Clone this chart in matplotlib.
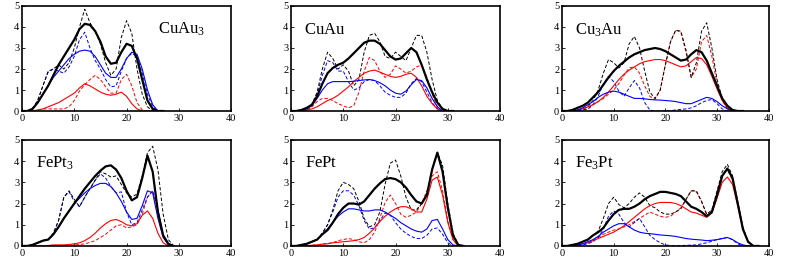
import matplotlib
matplotlib.use('Agg')
import matplotlib.pyplot as plt
import numpy as np

# Energy grid (one value per unit) and DOS-like curves.
# tot = black, a = blue, b = red; *_d = dashed counterpart

# CuAu3
cuau3_x = list(range(0, 28))
cuau3_tot = [0, 0, 0.1, 0.4, 0.8, 1.2, 1.7, 2.2, 2.6, 3.0, 3.4, 3.9, 4.15, 4.1,
             3.8, 3.3, 2.6, 2.25, 2.3, 2.8, 3.2, 3.1, 2.5, 1.5, 0.5, 0.1, 0, 0]
cuau3_tot_d = [0, 0, 0.1, 0.5, 1.2, 1.9, 2.0, 2.2, 2.0, 2.3, 3.0, 4.0, 4.85, 4.2,
               3.8, 3.2, 2.3, 1.7, 2.0, 3.5, 4.3, 3.7, 2.0, 0.8, 0.2, 0, 0, 0]
cuau3_a = [0, 0, 0.1, 0.4, 0.8, 1.2, 1.6, 1.9, 2.2, 2.5, 2.7, 2.85, 2.9, 2.85,
           2.6, 2.2, 1.8, 1.6, 1.6, 2.0, 2.5, 2.8, 2.7, 2.0, 1.0, 0.3, 0, 0]
cuau3_a_d = [0, 0, 0.1, 0.5, 1.2, 1.85, 2.0, 1.9, 1.8, 2.1, 2.6, 3.4, 3.75, 3.0,
             2.4, 2.0, 1.5, 1.15, 1.2, 1.9, 2.5, 2.75, 2.6, 1.8, 0.8, 0.2, 0, 0]
cuau3_b = [0, 0, 0, 0.05, 0.1, 0.2, 0.3, 0.4, 0.55, 0.7, 0.85, 1.1, 1.3, 1.2,
           1.05, 0.9, 0.8, 0.75, 0.8, 0.9, 0.7, 0.35, 0.1, 0, 0, 0, 0, 0]
cuau3_b_d = [0, 0, 0, 0.05, 0.1, 0.1, 0.1, 0.1, 0.1, 0.2, 0.5, 0.95, 1.25, 1.5,
             1.7, 1.5, 1.15, 0.85, 0.85, 1.5, 1.75, 1.2, 0.4, 0.05, 0, 0, 0, 0]

# CuAu
cuau_x = list(range(0, 32))
cuau_tot = [0, 0, 0.05, 0.15, 0.3, 0.7, 1.3, 1.8, 2.05, 2.2, 2.3, 2.5, 2.75, 3.0,
            3.25, 3.35, 3.35, 3.2, 2.9, 2.6, 2.45, 2.5, 2.75, 3.0, 2.8, 2.2,
            1.5, 0.9, 0.4, 0.1, 0, 0]
cuau_tot_d = [0, 0, 0.05, 0.1, 0.3, 0.9, 2.0, 2.8, 2.5, 2.0, 2.2, 1.9, 1.2, 1.5,
              2.8, 3.6, 3.7, 3.3, 2.6, 2.5, 2.8, 2.6, 2.4, 3.0, 3.6, 3.6, 2.8,
              1.5, 0.5, 0.1, 0, 0]
cuau_a = [0, 0, 0, 0.1, 0.25, 0.6, 1.0, 1.3, 1.4, 1.4, 1.4, 1.4, 1.42, 1.45,
          1.48, 1.5, 1.45, 1.35, 1.2, 1.0, 0.85, 0.8, 0.95, 1.25, 1.5, 1.45,
          1.1, 0.6, 0.2, 0, 0, 0]
cuau_a_d = [0, 0, 0, 0.1, 0.3, 0.8, 1.7, 2.4, 2.3, 1.9, 1.9, 1.4, 1.0, 1.1, 1.4,
            1.5, 1.45, 1.2, 0.9, 0.75, 0.65, 0.65, 0.85, 1.3, 1.55, 1.4, 0.9,
            0.4, 0.1, 0, 0, 0]
cuau_b = [0, 0, 0, 0.05, 0.1, 0.2, 0.35, 0.5, 0.6, 0.75, 0.95, 1.15, 1.4, 1.6,
          1.8, 1.9, 1.95, 1.85, 1.75, 1.65, 1.6, 1.65, 1.75, 1.8, 1.6, 1.2,
          0.7, 0.35, 0.1, 0, 0, 0]
cuau_b_d = [0, 0, 0, 0.05, 0.2, 0.45, 0.6, 0.6, 0.5, 0.35, 0.25, 0.15, 0.25, 0.9,
            1.9, 2.55, 2.4, 1.9, 1.6, 1.75, 2.15, 2.0, 1.8, 1.9, 2.1, 2.2, 1.6,
            0.8, 0.2, 0, 0, 0]

# Cu3Au
cu3au_x = list(range(0, 36))
cu3au_tot = [0, 0, 0.05, 0.15, 0.25, 0.4, 0.65, 0.9, 1.25, 1.6, 1.9, 2.15, 2.35,
             2.55, 2.7, 2.8, 2.9, 2.95, 3.0, 2.95, 2.85, 2.7, 2.55, 2.4, 2.45,
             2.7, 2.9, 2.8, 2.4, 1.8, 1.2, 0.6, 0.25, 0.05, 0, 0]
cu3au_tot_d = [0, 0, 0, 0.05, 0.1, 0.2, 0.5, 1.0, 1.8, 2.45, 2.3, 2.05, 2.3, 3.2,
               3.55, 3.0, 1.9, 0.9, 0.6, 1.0, 2.2, 3.3, 3.85, 3.8, 2.9, 1.6,
               2.3, 3.8, 4.2, 3.0, 1.5, 0.6, 0.15, 0, 0, 0]
cu3au_a = [0, 0, 0, 0.05, 0.15, 0.3, 0.45, 0.65, 0.8, 0.9, 0.95, 0.9, 0.8, 0.7,
           0.6, 0.6, 0.58, 0.55, 0.53, 0.52, 0.5, 0.48, 0.45, 0.4, 0.35, 0.35,
           0.45, 0.55, 0.65, 0.6, 0.45, 0.25, 0.1, 0, 0, 0]
cu3au_a_d = [0, 0, 0, 0, 0.05, 0.1, 0.3, 0.7, 1.3, 1.65, 1.4, 0.95, 0.7, 1.1,
             1.45, 1.1, 0.4, 0.05, 0, 0, 0, 0.02, 0.05, 0.08, 0.1, 0.15, 0.25,
             0.4, 0.5, 0.55, 0.35, 0.1, 0, 0, 0, 0]
cu3au_b = [0, 0, 0, 0.05, 0.1, 0.2, 0.3, 0.45, 0.65, 0.9, 1.2, 1.5, 1.75, 1.95,
           2.1, 2.25, 2.35, 2.4, 2.45, 2.45, 2.4, 2.3, 2.2, 2.1, 2.15, 2.35,
           2.55, 2.5, 2.2, 1.65, 1.05, 0.5, 0.15, 0, 0, 0]
cu3au_b_d = [0, 0, 0, 0, 0.05, 0.1, 0.3, 0.45, 0.6, 0.8, 1.0, 1.3, 1.7, 2.05,
             2.1, 1.8, 1.2, 0.7, 0.55, 1.0, 2.2, 3.3, 3.85, 3.75, 2.8, 1.6,
             2.0, 3.3, 3.6, 2.6, 1.3, 0.5, 0.1, 0, 0, 0]

# FePt3
fept3_x = list(range(0, 30))
fept3_tot = [0, 0, 0.05, 0.15, 0.25, 0.3, 0.55, 0.9, 1.3, 1.65, 2.0, 2.35, 2.7,
             3.0, 3.3, 3.55, 3.75, 3.8, 3.6, 3.2, 2.6, 2.15, 2.3, 3.2, 4.25,
             3.5, 1.6, 0.5, 0.1, 0]
fept3_tot_d = [0, 0, 0.05, 0.15, 0.25, 0.3, 0.6, 1.2, 2.3, 2.6, 2.2, 1.85, 2.3,
               2.7, 3.1, 3.5, 3.4, 3.25, 3.3, 2.9, 2.5, 2.3, 2.45, 3.3, 4.4,
               4.7, 3.6, 1.5, 0.3, 0]
fept3_a = [0, 0, 0.05, 0.15, 0.25, 0.3, 0.55, 0.9, 1.3, 1.65, 2.0, 2.25, 2.5,
           2.7, 2.85, 2.95, 2.95, 2.8, 2.5, 2.1, 1.6, 1.25, 1.3, 1.9, 2.6, 2.5,
           1.3, 0.4, 0.05, 0]
fept3_a_d = [0, 0, 0.05, 0.15, 0.25, 0.3, 0.6, 1.2, 2.3, 2.55, 2.1, 1.85, 2.3,
             2.7, 3.1, 3.4, 3.2, 2.8, 2.5, 2.55, 1.6, 1.0, 1.1, 1.7, 2.3, 2.6,
             1.7, 0.5, 0.05, 0]
fept3_b = [0, 0, 0, 0, 0, 0.02, 0.05, 0.05, 0.05, 0.07, 0.1, 0.15, 0.25, 0.4,
           0.6, 0.85, 1.05, 1.2, 1.25, 1.15, 1.0, 0.95, 1.05, 1.45, 1.65, 1.3,
           0.6, 0.15, 0, 0]
fept3_b_d = [0, 0, 0, 0, 0, 0, 0, 0, 0.02, 0.03, 0.05, 0.07, 0.1, 0.17, 0.25,
             0.4, 0.55, 0.75, 0.95, 1.0, 0.85, 0.9, 1.0, 1.5, 2.3, 2.6, 1.7,
             0.5, 0.05, 0]

# FePt
fept_x = list(range(0, 34))
fept_tot = [0, 0, 0.05, 0.1, 0.2, 0.3, 0.55, 0.75, 1.1, 1.5, 1.8, 2.0, 2.0, 1.95,
            2.1, 2.4, 2.7, 2.95, 3.15, 3.2, 3.15, 3.0, 2.75, 2.4, 2.1, 2.0, 2.4,
            3.6, 4.4, 3.5, 1.8, 0.5, 0.05, 0]
fept_tot_d = [0, 0, 0.05, 0.1, 0.2, 0.3, 0.6, 1.0, 1.7, 2.6, 3.0, 2.9, 2.7, 2.1,
              1.3, 0.9, 1.0, 1.6, 2.9, 3.9, 4.05, 3.3, 2.3, 1.7, 1.7, 2.0, 2.5,
              3.6, 4.4, 3.8, 2.0, 0.6, 0.05, 0]
fept_a = [0, 0, 0.05, 0.1, 0.2, 0.3, 0.55, 0.8, 1.1, 1.4, 1.6, 1.75, 1.75, 1.7,
          1.65, 1.65, 1.7, 1.7, 1.6, 1.45, 1.3, 1.1, 0.95, 0.8, 0.7, 0.65, 0.8,
          1.2, 1.25, 0.8, 0.3, 0.05, 0, 0]
fept_a_d = [0, 0, 0.05, 0.1, 0.2, 0.3, 0.6, 1.0, 1.6, 2.3, 2.6, 2.6, 2.4, 1.9,
            1.2, 0.8, 0.85, 1.2, 1.55, 1.45, 1.1, 0.8, 0.6, 0.45, 0.35, 0.35,
            0.5, 0.8, 0.85, 0.55, 0.15, 0, 0, 0]
fept_b = [0, 0, 0, 0.02, 0.03, 0.05, 0.08, 0.1, 0.15, 0.17, 0.2, 0.22, 0.25, 0.3,
          0.4, 0.6, 0.85, 1.15, 1.4, 1.6, 1.75, 1.85, 1.85, 1.75, 1.6, 1.6,
          2.2, 3.1, 3.25, 2.4, 1.1, 0.3, 0, 0]
fept_b_d = [0, 0, 0, 0, 0.03, 0.05, 0.1, 0.12, 0.15, 0.25, 0.3, 0.35, 0.3, 0.2,
            0.15, 0.3, 0.65, 1.3, 2.05, 2.4, 2.0, 1.5, 1.35, 1.45, 1.6, 2.0,
            2.6, 3.3, 3.5, 2.6, 1.2, 0.3, 0, 0]

# Fe3Pt
fe3pt_x = list(range(0, 39))
fe3pt_tot = [0, 0, 0.05, 0.1, 0.2, 0.3, 0.5, 0.65, 0.85, 1.2, 1.5, 1.7, 1.75,
             1.75, 1.85, 2.0, 2.2, 2.35, 2.45, 2.55, 2.55, 2.5, 2.45, 2.35, 2.1,
             1.85, 1.75, 1.6, 1.4, 1.6, 2.4, 3.3, 3.65, 3.2, 2.0, 0.8, 0.2, 0, 0]
fe3pt_tot_d = [0, 0, 0.05, 0.1, 0.2, 0.3, 0.5, 0.7, 1.3, 2.0, 2.3, 1.95, 1.8,
               2.0, 2.3, 2.5, 2.3, 1.9, 1.8, 1.6, 1.5, 1.5, 1.6, 1.75, 2.2, 2.6,
               2.6, 2.1, 1.5, 1.7, 2.6, 3.5, 3.85, 3.3, 2.1, 0.9, 0.2, 0, 0]
fe3pt_a = [0, 0, 0.02, 0.05, 0.1, 0.2, 0.3, 0.45, 0.65, 0.8, 0.95, 1.05, 1.05,
           0.9, 0.75, 0.65, 0.6, 0.58, 0.55, 0.52, 0.5, 0.48, 0.45, 0.4, 0.35,
           0.32, 0.3, 0.28, 0.25, 0.27, 0.3, 0.35, 0.4, 0.3, 0.15, 0.05, 0, 0, 0]
fe3pt_a_d = [0, 0, 0, 0.02, 0.05, 0.1, 0.2, 0.4, 0.8, 1.4, 1.65, 1.5, 1.1, 0.9,
             1.1, 1.3, 0.9, 0.5, 0.3, 0.15, 0.05, 0.02, 0.02, 0.02, 0.03, 0.04,
             0.05, 0.1, 0.15, 0.22, 0.3, 0.35, 0.4, 0.3, 0.1, 0, 0, 0, 0]
fe3pt_b = [0, 0, 0.02, 0.05, 0.1, 0.15, 0.25, 0.35, 0.45, 0.55, 0.65, 0.8, 0.95,
           1.15, 1.35, 1.55, 1.75, 1.9, 2.0, 2.05, 2.05, 2.05, 2.0, 1.9, 1.75,
           1.6, 1.55, 1.45, 1.35, 1.55, 2.25, 3.0, 3.25, 2.9, 1.9, 0.8, 0.2, 0, 0]
fe3pt_b_d = [0, 0, 0, 0.05, 0.1, 0.15, 0.25, 0.4, 0.55, 0.65, 0.75, 0.8, 0.9, 1.0,
             1.15, 1.3, 1.45, 1.6, 1.5, 1.4, 1.35, 1.4, 1.6, 1.8, 2.2, 2.6, 2.55,
             2.1, 1.45, 1.6, 2.5, 3.3, 3.6, 3.1, 2.0, 0.8, 0.2, 0, 0]

labels = [r'$\mathrm{CuAu_3}$', r'$\mathrm{CuAu}$', r'$\mathrm{Cu_3Au}$',
          r'$\mathrm{FePt_3}$', r'$\mathrm{FePt}$', r'$\mathrm{Fe_3Pt}$']
label_pos = [(0.65, 0.78), (0.06, 0.77), (0.065, 0.77),
             (0.065, 0.78), (0.065, 0.78), (0.065, 0.78)]
xticks = [0, 10, 20, 30, 40]
yticks = [0, 1, 2, 3, 4, 5]


def plot_panel(ax, x, tot, tot_d, a, a_d, b, b_d, label, pos):
    dash = dict(ls=(0, (3.5, 2)), lw=0.7)
    ax.plot(x, b_d, color='red', **dash)
    ax.plot(x, a_d, color='blue', **dash)
    ax.plot(x, tot_d, color='black', **dash)
    ax.plot(x, b, color='red', lw=0.8)
    ax.plot(x, a, color='blue', lw=0.8)
    ax.plot(x, tot, color='black', lw=1.6)
    ax.set_xlim(0, 40)
    ax.set_ylim(0, 5)
    ax.set_xticks(xticks)
    ax.set_yticks(yticks)
    ax.tick_params(axis='both', direction='in', length=2, width=0.6,
                   labelsize=7.5, pad=2)
    for s in ax.spines.values():
        s.set_linewidth(1.2)
    ax.text(pos[0], pos[1], label, transform=ax.transAxes, fontsize=12,
            ha='left', va='center')


def main():
    plt.rcParams['font.family'] = 'Liberation Serif'
    plt.rcParams['mathtext.fontset'] = 'custom'
    plt.rcParams['mathtext.rm'] = 'Liberation Serif'
    plt.rcParams['mathtext.it'] = 'Liberation Serif:italic'

    fig = plt.figure(figsize=(7.89, 2.60), dpi=100)
    lefts = [0.0279, 0.3688, 0.7123]
    widths = [0.265, 0.265, 0.262]
    rows = [(0.573, 0.404), (0.054, 0.408)]

    panels = [
        (cuau3_x, cuau3_tot, cuau3_tot_d, cuau3_a, cuau3_a_d, cuau3_b, cuau3_b_d),
        (cuau_x, cuau_tot, cuau_tot_d, cuau_a, cuau_a_d, cuau_b, cuau_b_d),
        (cu3au_x, cu3au_tot, cu3au_tot_d, cu3au_a, cu3au_a_d, cu3au_b, cu3au_b_d),
        (fept3_x, fept3_tot, fept3_tot_d, fept3_a, fept3_a_d, fept3_b, fept3_b_d),
        (fept_x, fept_tot, fept_tot_d, fept_a, fept_a_d, fept_b, fept_b_d),
        (fe3pt_x, fe3pt_tot, fe3pt_tot_d, fe3pt_a, fe3pt_a_d, fe3pt_b, fe3pt_b_d),
    ]

    for i, p in enumerate(panels):
        r, c = divmod(i, 3)
        bottom, height = rows[r]
        ax = fig.add_axes([lefts[c], bottom, widths[c], height])
        plot_panel(ax, *p, labels[i], label_pos[i])

    fig.savefig('out.png', dpi=100)
    plt.close(fig)


if __name__ == "__main__":
    main()
